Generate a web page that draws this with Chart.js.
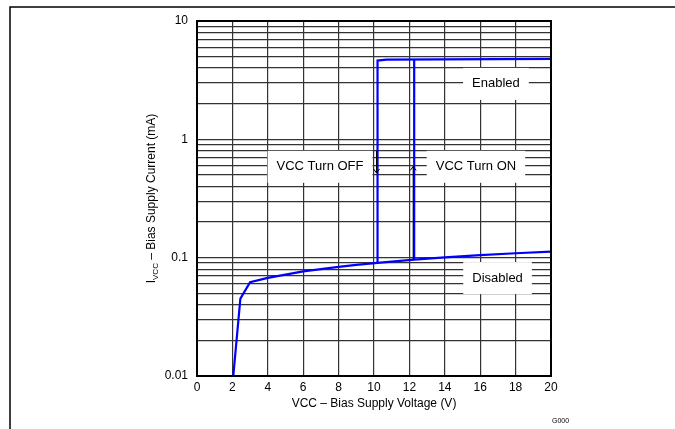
<!DOCTYPE html>
<html>
<head>
<meta charset="utf-8">
<script src="https://cdn.jsdelivr.net/npm/chart.js@4.4.1/dist/chart.umd.min.js"></script>
<style>
  html, body { margin: 0; padding: 0; background: #fff; }
  #wrap { width: 675px; height: 429px; }
</style>
</head>
<body>
<div id="wrap"><canvas id="chart" width="675" height="429"></canvas></div>
<script>
// values
const xTicks = [0, 2, 4, 6, 8, 10, 12, 14, 16, 18, 20];
const yDecades = [0.01, 0.1, 1, 10];
const yTickLabels = ['0.01', '0.1', '1', '10'];

const disabledV = [2.05, 2.45, 3.0, 4.0, 5.0, 6.0, 7.0, 8.0, 9.0, 10.2, 12.27, 14, 16, 18, 20];
const disabledI = [0.01, 0.045, 0.062, 0.0674, 0.072, 0.0766, 0.080, 0.0835, 0.087, 0.0902, 0.0962, 0.1005, 0.105, 0.109, 0.1125];

const turnOffV = [10.2, 10.2, 10.7, 20];
const turnOffI = [0.0902, 4.63, 4.72, 4.78];

const turnOnV = [12.27, 12.27];
const turnOnI = [0.0962, 4.74];

// log grid: 1..9 in each decade
const yGrid = [];
for (let d = 0; d < yDecades.length - 1; d++) {
  for (let k = 1; k < 10; k++) yGrid.push(+(yDecades[d] * k).toPrecision(3));
}
yGrid.push(10);

const labels = [
  { text: 'VCC Turn OFF', x: 6.95, y: 0.586 },
  { text: 'VCC Turn ON', x: 15.76, y: 0.586 },
  { text: 'Enabled', x: 16.89, y: 2.94 },
  { text: 'Disabled', x: 16.98, y: 0.0672 }
];

const arrows = [
  { x: 10.2, from: 0.8, to: 0.52 },
  { x: 12.27, from: 0.0962, to: 0.59 }
];

function pts(xs, ys) {
  return xs.map((x, i) => ({ x: x, y: ys[i] }));
}

const FONT = "'Liberation Sans', Arial, sans-serif";

const extras = {
  id: 'extras',
  beforeDraw(chart) {
    const ctx = chart.ctx;
    ctx.save();
    ctx.strokeStyle = '#000';
    ctx.lineWidth = 1.5;
    ctx.beginPath();
    ctx.moveTo(10, 430);
    ctx.lineTo(10, 7);
    ctx.lineTo(676, 7);
    ctx.stroke();
    ctx.restore();
  },
  beforeDatasetsDraw(chart) {
    const ctx = chart.ctx;
    const xs = chart.scales.x, ys = chart.scales.y;
    ctx.save();
    ctx.font = '13px ' + FONT;
    labels.forEach(l => {
      const w = ctx.measureText(l.text).width + 18;
      const cx = xs.getPixelForValue(l.x), cy = ys.getPixelForValue(l.y);
      ctx.fillStyle = '#fff';
      ctx.fillRect(cx - w / 2, cy - 16, w, 32);
      ctx.fillStyle = '#000';
      ctx.textAlign = 'center';
      ctx.textBaseline = 'middle';
      ctx.fillText(l.text, cx, cy);
    });
    ctx.restore();
  },
  afterDatasetsDraw(chart) {
    const ctx = chart.ctx;
    const a = chart.chartArea;
    const xs = chart.scales.x, ys = chart.scales.y;
    ctx.save();
    // arrows
    ctx.strokeStyle = '#000';
    ctx.lineWidth = 1;
    arrows.forEach(ar => {
      const px = xs.getPixelForValue(ar.x) - 1;
      const y0 = ys.getPixelForValue(ar.from), y1 = ys.getPixelForValue(ar.to);
      const dir = y1 > y0 ? 1 : -1;
      ctx.beginPath();
      ctx.moveTo(px, y0);
      ctx.lineTo(px, y1);
      ctx.moveTo(px - 3, y1 - dir * 4);
      ctx.lineTo(px, y1);
      ctx.lineTo(px + 3, y1 - dir * 4);
      ctx.stroke();
    });
    // plot frame
    ctx.lineWidth = 2;
    ctx.strokeRect(a.left, a.top, a.right - a.left, a.bottom - a.top);
    // y title with subscript
    ctx.translate(151, (a.top + a.bottom) / 2);
    ctx.rotate(-Math.PI / 2);
    ctx.fillStyle = '#000';
    ctx.textBaseline = 'alphabetic';
    ctx.textAlign = 'left';
    const f1 = '12px ' + FONT, f2 = '8px ' + FONT;
    const p1 = 'I', p2 = 'VCC', p3 = ' \u2013 Bias Supply Current (mA)';
    ctx.font = f1; const w1 = ctx.measureText(p1).width, w3 = ctx.measureText(p3).width;
    ctx.font = f2; const w2 = ctx.measureText(p2).width;
    let x0 = -(w1 + w2 + w3) / 2;
    ctx.font = f1; ctx.fillText(p1, x0, 4);
    ctx.font = f2; ctx.fillText(p2, x0 + w1, 7);
    ctx.font = f1; ctx.fillText(p3, x0 + w1 + w2, 4);
    ctx.restore();
    // figure id
    ctx.save();
    ctx.font = '7px ' + FONT;
    ctx.fillStyle = '#000';
    ctx.textBaseline = 'middle';
    ctx.fillText('G000', 552, 421);
    ctx.restore();
  }
};

const lineStyle = {
  showLine: true,
  borderColor: '#0000ff',
  borderWidth: 2.2,
  pointRadius: 0,
  fill: false,
  tension: 0
};

new Chart(document.getElementById('chart'), {
  type: 'scatter',
  data: {
    datasets: [
      Object.assign({ label: 'Disabled', data: pts(disabledV, disabledI) }, lineStyle),
      Object.assign({ label: 'Turn OFF', data: pts(turnOffV, turnOffI) }, lineStyle),
      Object.assign({ label: 'Turn ON', data: pts(turnOnV, turnOnI) }, lineStyle)
    ]
  },
  options: {
    responsive: false,
    animation: false,
    events: [],
    layout: { padding: { left: 0, top: 21, right: 124, bottom: 0 } },
    plugins: { legend: { display: false }, tooltip: { enabled: false } },
    scales: {
      x: {
        type: 'linear',
        min: 0,
        max: 20,
        afterBuildTicks: s => { s.ticks = xTicks.map(v => ({ value: v })); },
        afterFit: s => { s.height = 53; },
        grid: { color: '#333', lineWidth: 1.2, drawTicks: false },
        border: { display: true, color: '#000', width: 2 },
        ticks: { color: '#000', font: { family: FONT, size: 12 }, padding: 4, maxRotation: 0 },
        title: {
          display: true,
          text: 'VCC \u2013 Bias Supply Voltage (V)',
          color: '#000',
          font: { family: FONT, size: 12 },
          padding: { top: 0, bottom: 18 }
        }
      },
      y: {
        type: 'logarithmic',
        min: 0.01,
        max: 10,
        afterBuildTicks: s => { s.ticks = yGrid.map(v => ({ value: v })); },
        afterFit: s => { s.width = 197; },
        grid: { color: '#333', lineWidth: 1.2, drawTicks: false },
        border: { display: true, color: '#000', width: 2 },
        ticks: {
          color: '#000',
          font: { family: FONT, size: 12 },
          padding: 9,
          autoSkip: false,
          callback: v => {
            const i = yDecades.findIndex(d => Math.abs(d - v) < d * 1e-6);
            return i >= 0 ? yTickLabels[i] : '';
          }
        }
      }
    }
  },
  plugins: [extras]
});
</script>
</body>
</html>
